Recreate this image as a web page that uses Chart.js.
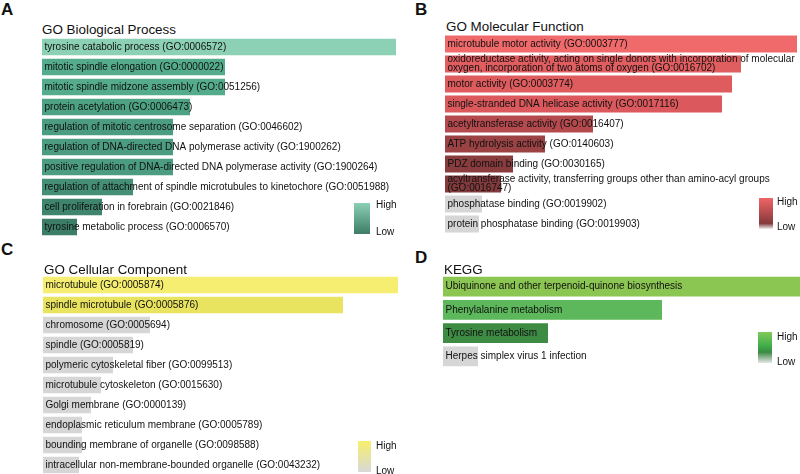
<!DOCTYPE html>
<html>
<head>
<meta charset="utf-8">
<script src="https://cdn.jsdelivr.net/npm/chart.js@4"></script>
<style>
  html, body { margin: 0; padding: 0; background: #fff; }
  body { width: 800px; height: 474px; position: relative; overflow: hidden; font-family: "Liberation Sans", Arial, sans-serif; color: #111; }
  canvas { position: absolute; }
  .t { position: absolute; white-space: nowrap; line-height: 1; }
  .key { position: absolute; }
</style>
</head>
<body>
<canvas id="bp" width="384" height="200" style="left:42px;top:37px"></canvas>
<canvas id="mf" width="355" height="200" style="left:445px;top:34px"></canvas>
<canvas id="cc" width="385" height="200" style="left:43px;top:275px"></canvas>
<canvas id="kegg" width="357" height="93" style="left:443px;top:275px"></canvas>
<script>
// GO Biological Process
const bpTerms = [
  'tyrosine catabolic process (GO:0006572)',
  'mitotic spindle elongation (GO:0000022)',
  'mitotic spindle midzone assembly (GO:0051256)',
  'protein acetylation (GO:0006473)',
  'regulation of mitotic centrosome separation (GO:0046602)',
  'regulation of DNA-directed DNA polymerase activity (GO:1900262)',
  'positive regulation of DNA-directed DNA polymerase activity (GO:1900264)',
  'regulation of attachment of spindle microtubules to kinetochore (GO:0051988)',
  'cell proliferation in forebrain (GO:0021846)',
  'tyrosine metabolic process (GO:0006570)'
];
const bpScores = [3.54, 1.83, 1.83, 1.48, 1.31, 1.31, 1.31, 0.91, 0.60, 0.35];
const bpSig = [true, true, true, true, true, true, true, true, true, true];

// GO Molecular Function
const mfTerms = [
  'microtubule motor activity (GO:0003777)',
  ['oxidoreductase activity, acting on single donors with incorporation of molecular',
   'oxygen, incorporation of two atoms of oxygen (GO:0016702)'],
  'motor activity (GO:0003774)',
  'single-stranded DNA helicase activity (GO:0017116)',
  'acetyltransferase activity (GO:0016407)',
  'ATP hydrolysis activity (GO:0140603)',
  'PDZ domain binding (GO:0030165)',
  ['acyltransferase activity, transferring groups other than amino-acyl groups',
   '(GO:0016747)'],
  'phosphatase binding (GO:0019902)',
  'protein phosphatase binding (GO:0019903)'
];
const mfScores = [3.52, 2.96, 2.87, 2.77, 1.48, 1.00, 0.68, 0.56, 0.37, 0.34];
const mfSig = [true, true, true, true, true, true, true, true, false, false];

// GO Cellular Component
const ccTerms = [
  'microtubule (GO:0005874)',
  'spindle microtubule (GO:0005876)',
  'chromosome (GO:0005694)',
  'spindle (GO:0005819)',
  'polymeric cytoskeletal fiber (GO:0099513)',
  'microtubule cytoskeleton (GO:0015630)',
  'Golgi membrane (GO:0000139)',
  'endoplasmic reticulum membrane (GO:0005789)',
  'bounding membrane of organelle (GO:0098588)',
  'intracellular non-membrane-bounded organelle (GO:0043232)'
];
const ccScores = [3.55, 3.00, 1.07, 0.90, 0.70, 0.58, 0.48, 0.39, 0.39, 0.36];
const ccSig = [true, true, false, false, false, false, false, false, false, false];

// KEGG
const keggTerms = [
  'Ubiquinone and other terpenoid-quinone biosynthesis',
  'Phenylalanine metabolism',
  'Tyrosine metabolism',
  'Herpes simplex virus 1 infection'
];
const keggScores = [3.57, 2.19, 1.05, 0.35];
const keggSig = [true, true, true, false];

const GRAY = '#d6d6d6';

function hex(c) {
  return [1, 3, 5].map(i => parseInt(c.slice(i, i + 2), 16));
}
function colorAt(stops, t) {
  for (let i = 1; i < stops.length; i++) {
    if (t <= stops[i][0]) {
      const [t0, c0] = stops[i - 1], [t1, c1] = stops[i];
      const f = (t - t0) / (t1 - t0), a = hex(c0), b = hex(c1);
      return 'rgb(' + a.map((v, k) => Math.round(v + (b[k] - v) * f)).join(',') + ')';
    }
  }
  return stops[stops.length - 1][1];
}

const labelPlugin = {
  id: 'barLabels',
  afterDatasetsDraw(chart) {
    const ctx = chart.ctx;
    const meta = chart.getDatasetMeta(0);
    ctx.save();
    ctx.font = '10px "Liberation Sans", Arial, sans-serif';
    ctx.fillStyle = '#111';
    ctx.textBaseline = 'middle';
    meta.data.forEach((bar, i) => {
      const lines = [].concat(chart.data.labels[i]);
      const y0 = bar.y - (lines.length - 1) * 4.5;
      lines.forEach((ln, k) => ctx.fillText(ln, chart.chartArea.left + 2.5, y0 + k * 9));
    });
    ctx.restore();
  }
};

function drawPanel(id, terms, scores, sig, stops, barPct, padRight) {
  const max = Math.max(...scores);
  new Chart(document.getElementById(id), {
    type: 'bar',
    data: {
      labels: terms,
      datasets: [{
        data: scores,
        backgroundColor: scores.map((v, i) => sig[i] ? colorAt(stops, v / max) : GRAY),
        barPercentage: barPct,
        categoryPercentage: 1
      }]
    },
    options: {
      indexAxis: 'y',
      responsive: false,
      animation: false,
      layout: { padding: { left: 0, right: padRight, top: 0, bottom: 0 } },
      plugins: { legend: { display: false }, tooltip: { enabled: false } },
      scales: {
        x: { display: false, min: 0, max: max },
        y: { display: false }
      }
    },
    plugins: [labelPlugin]
  });
}

drawPanel('bp', bpTerms, bpScores, bpSig,
  [[0, '#35705c'], [0.1, '#3b7d67'], [0.5, '#52ab8c'], [1, '#8cd0b6']], 0.82, 30);
drawPanel('mf', mfTerms, mfScores, mfSig,
  [[0, '#7a3638'], [0.16, '#823a3c'], [0.42, '#b44a4d'], [0.8, '#dc5a5d'], [1, '#f06a6c']], 0.84, 3);
drawPanel('cc', ccTerms, ccScores, ccSig,
  [[0, '#d8d8a0'], [0.8, '#e6e15a'], [1, '#f5ee70']], 0.82, 30);
drawPanel('kegg', keggTerms, keggScores, keggSig,
  [[0, '#2f6e35'], [0.29, '#3e8a44'], [0.61, '#5cb85a'], [1, '#8cc652']], 0.84, 0);

// text placed by baseline
function text(str, x, baseline, size, bold) {
  const d = document.createElement('div');
  d.className = 't';
  d.textContent = str;
  d.style.fontSize = size + 'px';
  if (bold) d.style.fontWeight = 'bold';
  d.style.left = x + 'px';
  d.style.top = (baseline - 0.8465 * size) + 'px';
  document.body.appendChild(d);
}
function key(x, y, w, h, grad) {
  const d = document.createElement('div');
  d.className = 'key';
  Object.assign(d.style, { left: x + 'px', top: y + 'px', width: w + 'px', height: h + 'px', background: grad });
  document.body.appendChild(d);
}

text('A', 1, 15, 17, true);
text('B', 415, 15, 17, true);
text('C', 1, 255, 17, true);
text('D', 415, 263, 17, true);

text('GO Biological Process', 42, 34, 13.4);
text('GO Molecular Function', 446, 31, 13.4);
text('GO Cellular Component', 44, 274, 13.4);
text('KEGG', 444, 274, 13.4);

key(354, 203, 16, 31, 'linear-gradient(#8ad0b5, #3e7c66)');
text('High', 376, 208, 10); text('Low', 376, 235, 10);
key(759, 198, 14, 31, 'linear-gradient(#ef6567, #b04a4c 50%, #843a3c 82%, #eeeeee)');
text('High', 777, 205, 10); text('Low', 777, 230, 10);
key(358, 441, 13, 31, 'linear-gradient(#f7ef6c, #d8d8d8)');
text('High', 376, 449, 10); text('Low', 376, 474, 10);
key(758, 332, 14, 31, 'linear-gradient(#82c95a, #3fae48 45%, #3b8a42 65%, #e6e6e6)');
text('High', 777, 340, 10); text('Low', 777, 365, 10);
</script>
</body>
</html>
